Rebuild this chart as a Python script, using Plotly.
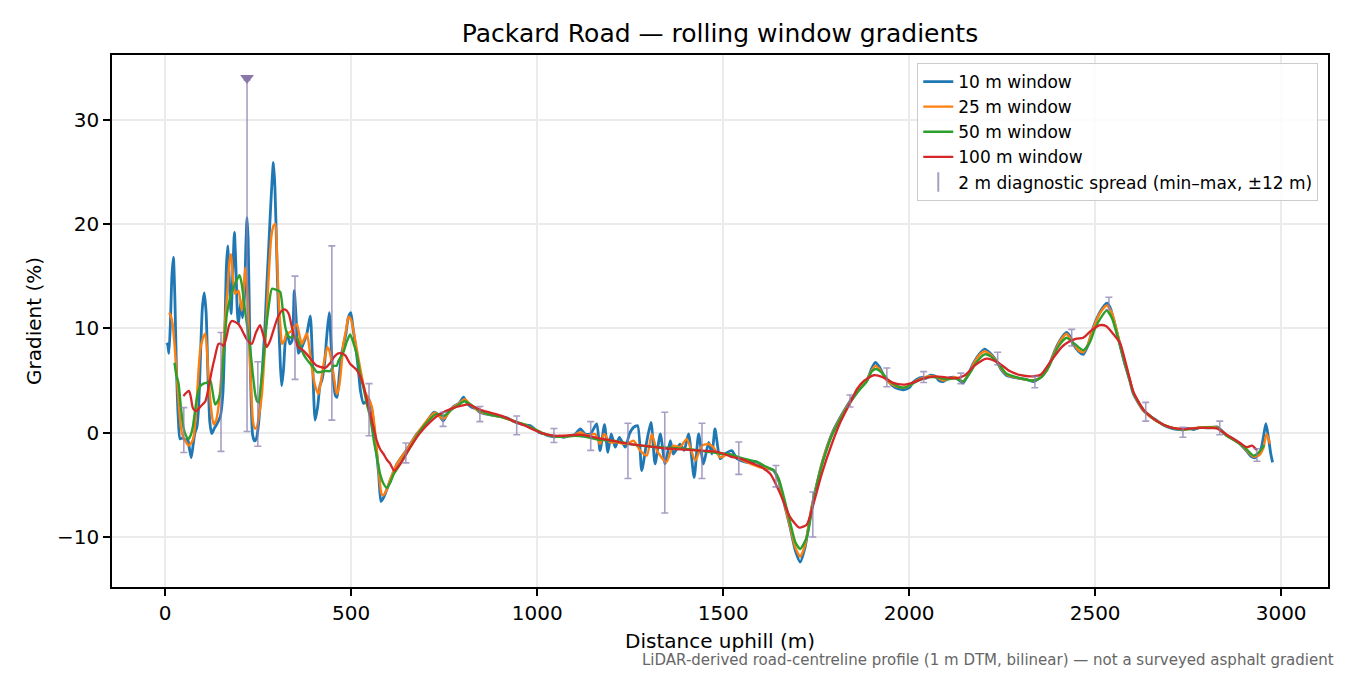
import plotly.graph_objects as go

# distance along road (m) and gradient (%) for each rolling window
x10 = [4.5, 7, 10, 14, 18, 22, 26, 30, 35, 40, 47, 54, 60, 65, 70, 75, 80, 85, 90, 95,
       100, 105, 110, 115, 120, 125, 132, 140, 148, 155, 160, 164, 168, 172, 177, 182, 186, 190, 194, 197,
       203, 208, 213, 217, 220, 223, 227, 231, 235, 240, 245, 250, 256, 262, 268, 273, 278, 284, 291, 295,
       300, 304, 309, 313, 318, 323, 328, 335, 341, 347, 352, 358, 365, 372, 381, 390, 396, 403, 410, 416,
       421, 428, 435, 441, 446, 452, 458, 462, 468, 474, 480, 486, 492, 499, 505, 511, 518, 525, 533, 540,
       547, 556, 565, 574, 580, 586, 591, 605, 623, 650, 677, 694, 708, 722, 735, 748, 760, 775, 790, 802,
       812, 825, 835, 846, 860, 875, 891, 905, 920, 936, 950, 965, 981, 995, 1005, 1017, 1030, 1045, 1060, 1071,
       1085, 1100, 1116, 1129, 1143, 1160, 1169, 1181, 1190, 1199, 1210, 1221, 1237, 1248, 1259, 1270, 1281, 1295, 1306, 1317,
       1331, 1344, 1358, 1366, 1384, 1395, 1407, 1422, 1434, 1447, 1461, 1470, 1478, 1492, 1505, 1523, 1537, 1564, 1590, 1617,
       1635, 1649, 1662, 1680, 1694, 1707, 1720, 1738, 1756, 1770, 1792, 1815, 1842, 1864, 1886, 1900, 1909, 1920, 1930, 1940,
       1955, 1970, 1985, 2000, 2010, 2020, 2035, 2045, 2056, 2070, 2080, 2092, 2105, 2123, 2135, 2145, 2158, 2172, 2188, 2203,
       2218, 2234, 2248, 2261, 2280, 2297, 2315, 2333, 2350, 2369, 2380, 2392, 2408, 2423, 2433, 2441, 2455, 2468, 2480, 2495,
       2512, 2525, 2531, 2540, 2550, 2562, 2578, 2593, 2603, 2630, 2650, 2666, 2685, 2702, 2720, 2737, 2750, 2765, 2782, 2800,
       2815, 2827, 2840, 2854, 2870, 2890, 2908, 2920, 2930, 2944, 2952, 2959, 2966, 2972, 2977]
y10 = [8.6, 8.4, 7.6, 10.5, 15.0, 16.8, 13.0, 6.5, 1.5, -0.6, -0.5, -0.7, -0.6, -1.5, -2.4, -1.2, 0.0, 0.5, 2.5, 7.5,
       12.0, 13.4, 11.5, 5.5, 1.0, -0.1, 0.4, 0.9, 1.5, 3.7, 9.0, 15.5, 17.9, 15.0, 11.4, 15.5, 19.2, 16.0, 11.5, 10.4,
       12.5, 11.0, 13.0, 18.0, 20.6, 18.5, 10.0, 3.0, -0.2, -0.8, -0.6, 0.5, 3.0, 6.5, 10.0, 14.0, 17.5, 22.0, 25.9, 23.5,
       17.0, 12.0, 7.0, 4.5, 6.0, 8.8, 9.6, 8.5, 8.8, 13.6, 11.0, 7.6, 8.0, 8.6, 9.5, 11.2, 7.0, 1.2, 2.5, 4.5,
       5.0, 6.5, 9.5, 11.5, 8.5, 5.0, 3.5, 3.4, 5.5, 7.5, 8.5, 9.5, 11.0, 11.5, 10.0, 8.5, 6.5, 4.0, 2.8, 3.0,
       3.2, 2.1, -0.8, -4.0, -6.6, -6.3, -5.9, -4.6, -3.0, -1.6, -0.1, 0.5, 1.3, 1.95, 1.7, 1.15, 1.9, 2.5, 2.8, 3.4,
       2.8, 2.4, 2.3, 1.95, 1.8, 1.7, 1.6, 1.5, 1.4, 1.1, 0.9, 0.75, 0.67, 0.3, 0.0, -0.1, -0.3, -0.4, -0.35, -0.45,
       -0.3, -0.2, 0.35, -0.13, -0.13, 0.83, -1.73, 0.77, -1.9, -0.13, -1.4, -0.45, -1.4, -0.13, 0.5, 0.67, -3.64, -0.77, 0.99, -3.0,
       -0.13, -3.0, -0.77, -2.05, -1.1, -1.7, -0.13, -4.3, -0.13, -3.0, -0.93, -2.05, 0.35, -2.5, -2.05, -1.73, -2.5, -2.85, -2.8, -3.4,
       -3.6, -4.6, -6.5, -9.1, -11.3, -12.4, -11.0, -7.2, -4.3, -2.4, -0.13, 1.47, 3.07, 4.2, 5.0, 6.2, 6.74, 6.3, 5.6, 5.1,
       4.5, 4.2, 4.1, 4.3, 4.8, 5.1, 5.3, 5.2, 5.5, 5.4, 5.0, 4.9, 5.2, 5.3, 5.0, 4.75, 5.5, 6.6, 7.5, 8.0,
       7.6, 6.9, 6.0, 5.5, 5.3, 5.2, 5.1, 4.9, 5.2, 5.94, 6.8, 7.9, 9.0, 9.6, 9.2, 8.5, 7.8, 7.5, 8.3, 10.1,
       11.5, 12.2, 12.4, 12.0, 10.8, 9.1, 6.8, 5.0, 3.7, 2.1, 1.5, 1.15, 0.7, 0.45, 0.3, 0.26, 0.4, 0.3, 0.5, 0.45,
       0.5, 0.55, 0.2, -0.28, -0.6, -1.1, -1.8, -2.3, -2.4, -1.8, -0.5, 0.85, -0.5, -2.0, -2.85]

x25 = [10.7, 15, 20, 25, 31, 36, 42, 48, 54, 63, 70, 76, 82, 88, 94, 101, 108, 116, 123, 130,
       137, 143, 150, 156, 161, 168, 173, 177, 182, 188, 197, 206, 211, 215, 220, 224, 230, 236, 241, 246,
       253, 260, 267, 273, 279, 285, 291, 296, 301, 305, 310, 314, 320, 327, 334, 341, 348, 354, 360, 367,
       374, 381, 388, 394, 403, 412, 419, 426, 431, 436, 442, 448, 455, 461, 468, 475, 479, 486, 493, 500,
       505, 511, 520, 529, 538, 547, 556, 563, 569, 575, 582, 587, 595, 605, 623, 650, 677, 700, 712, 725,
       748, 770, 790, 805, 820, 846, 875, 905, 936, 965, 995, 1017, 1045, 1071, 1100, 1116, 1134, 1156, 1169, 1180,
       1196, 1214, 1241, 1259, 1277, 1295, 1308, 1322, 1347, 1366, 1384, 1402, 1425, 1443, 1461, 1474, 1492, 1514, 1537, 1564,
       1599, 1617, 1635, 1649, 1662, 1680, 1694, 1707, 1720, 1738, 1756, 1770, 1792, 1815, 1842, 1864, 1886, 1900, 1909, 1920,
       1940, 1960, 1985, 2005, 2020, 2040, 2056, 2075, 2092, 2110, 2125, 2145, 2160, 2172, 2188, 2203, 2218, 2234, 2250, 2265,
       2297, 2333, 2350, 2369, 2392, 2408, 2423, 2441, 2455, 2468, 2480, 2495, 2512, 2531, 2545, 2562, 2578, 2593, 2603, 2630,
       2666, 2702, 2737, 2782, 2827, 2854, 2890, 2910, 2925, 2940, 2952, 2961, 2970]
y25 = [11.5, 11.2, 10.4, 8.5, 5.6, 3.0, 0.5, -0.4, -0.8, -1.25, -1.0, -0.5, 1.5, 5.0, 7.9, 9.0, 9.5, 5.6, 2.5, 0.8,
       1.2, 2.4, 5.0, 8.0, 10.7, 14.0, 16.5, 17.1, 15.0, 13.3, 13.6, 11.7, 13.5, 15.8, 14.0, 10.1, 5.0, 1.1, 0.4, 0.5,
       1.8, 3.7, 7.5, 11.4, 15.5, 18.7, 19.8, 20.0, 16.5, 12.7, 10.0, 8.5, 8.8, 9.5, 9.6, 9.8, 10.2, 10.4, 9.5, 8.5,
       9.0, 9.5, 8.0, 6.3, 4.5, 3.7, 5.0, 6.6, 7.5, 8.2, 7.8, 6.6, 5.0, 3.7, 4.5, 6.9, 8.5, 9.8, 11.1, 10.8,
       10.0, 8.8, 7.0, 5.3, 3.8, 3.3, 2.4, 0.5, -1.7, -4.0, -5.9, -6.0, -5.5, -4.5, -3.0, -1.6, -0.1, 1.0, 1.5, 1.9,
       1.3, 2.3, 2.8, 3.2, 2.7, 2.0, 1.7, 1.5, 1.1, 0.8, 0.3, -0.1, -0.35, -0.4, -0.25, 0.03, -0.29, -0.13, -1.09, -0.13,
       -0.93, -0.93, -1.09, -0.77, -1.73, -2.2, -0.13, -1.73, -2.84, -1.25, -1.41, -0.61, -2.68, -1.25, -1.09, -1.41, -2.37, -2.05, -2.37, -2.84,
       -3.32, -3.4, -3.6, -4.5, -6.4, -9.0, -11.0, -11.9, -10.8, -7.2, -4.3, -2.4, -0.2, 1.4, 3.0, 4.1, 5.0, 6.0, 6.4, 6.1,
       5.0, 4.5, 4.3, 4.6, 5.0, 5.3, 5.4, 5.3, 5.0, 5.2, 5.3, 4.9, 5.6, 6.5, 7.4, 7.8, 7.5, 6.9, 6.0, 5.5,
       5.2, 5.0, 5.2, 5.9, 7.8, 8.9, 9.46, 8.6, 7.9, 7.7, 8.4, 10.0, 11.4, 12.2, 11.5, 9.2, 6.9, 5.1, 3.8, 2.1,
       1.1, 0.5, 0.3, 0.5, 0.5, -0.3, -1.1, -1.8, -2.3, -2.2, -1.5, -0.13, -1.07]

x50 = [25, 30, 36, 42, 49, 56, 63, 69, 74, 80, 87, 95, 103, 112, 121, 128, 134, 141, 148, 155,
       160, 166, 175, 184, 192, 200, 206, 211, 220, 228, 235, 242, 247, 251, 257, 264, 270, 278, 287, 298,
       309, 316, 323, 330, 336, 345, 354, 363, 372, 381, 390, 399, 408, 417, 426, 435, 444, 452, 461, 466,
       479, 488, 497, 506, 515, 524, 533, 542, 551, 561, 570, 578, 587, 596, 605, 614, 632, 659, 686, 712,
       730, 750, 770, 790, 805, 825, 846, 875, 905, 936, 965, 995, 1017, 1045, 1071, 1100, 1130, 1170, 1210, 1250,
       1290, 1330, 1370, 1410, 1450, 1490, 1520, 1546, 1590, 1617, 1635, 1649, 1662, 1680, 1694, 1707, 1725, 1743, 1760, 1775,
       1792, 1815, 1842, 1864, 1886, 1900, 1912, 1925, 1945, 1965, 1985, 2005, 2025, 2050, 2075, 2100, 2125, 2145, 2165, 2180,
       2203, 2220, 2240, 2260, 2290, 2333, 2355, 2375, 2400, 2423, 2445, 2468, 2485, 2500, 2515, 2531, 2545, 2562, 2578, 2593,
       2603, 2630, 2666, 2702, 2737, 2782, 2827, 2854, 2890, 2910, 2925, 2940, 2955]
y50 = [6.7, 5.5, 4.7, 2.5, 0.5, -0.3, -0.6, -0.2, 0.5, 2.0, 3.7, 4.5, 4.7, 4.8, 5.0, 3.8, 2.7, 3.0, 3.7, 6.5,
       9.0, 11.4, 13.0, 13.9, 14.6, 15.1, 14.2, 12.7, 10.3, 8.2, 5.8, 3.7, 3.0, 2.9, 4.5, 6.9, 9.5, 12.0, 13.8, 13.7,
       13.5, 11.8, 10.1, 9.3, 9.1, 9.3, 9.1, 8.3, 7.5, 7.0, 6.6, 6.2, 5.8, 5.8, 5.9, 5.9, 5.9, 6.4, 6.4, 6.9,
       7.7, 8.7, 9.4, 8.6, 7.5, 5.6, 4.3, 2.75, 1.5, -0.8, -2.5, -4.0, -4.9, -5.3, -4.8, -4.0, -3.0, -1.4, 0.2, 1.3,
       1.8, 1.6, 2.2, 2.7, 3.0, 2.6, 2.1, 1.7, 1.5, 1.1, 0.8, 0.3, -0.1, -0.35, -0.4, -0.3, -0.4, -0.7, -0.8, -1.1,
       -1.3, -1.4, -1.5, -1.6, -1.8, -2.0, -2.1, -2.4, -2.8, -3.3, -3.6, -4.4, -6.0, -8.6, -10.5, -11.15, -10.0, -6.5, -3.8, -2.0,
       -0.3, 1.3, 2.9, 4.0, 4.9, 5.9, 6.1, 5.8, 5.0, 4.5, 4.3, 4.6, 5.0, 5.3, 5.3, 5.1, 5.2, 4.9, 5.8, 6.7,
       7.5, 7.3, 6.6, 5.7, 5.3, 5.0, 5.3, 6.3, 8.2, 9.1, 8.5, 7.9, 8.6, 10.0, 11.0, 11.7, 11.0, 9.0, 6.9, 5.0,
       3.8, 2.2, 1.1, 0.5, 0.3, 0.45, 0.45, -0.3, -1.1, -1.7, -2.2, -1.9, -1.2]

x100 = [49, 56, 64, 69, 74, 80, 85, 95, 108, 116, 125, 134, 143, 150, 157, 165, 172, 179, 188, 197,
        204, 211, 222, 233, 244, 255, 264, 273, 282, 291, 302, 314, 323, 332, 340, 345, 352, 358, 370, 381,
        390, 399, 408, 417, 430, 444, 455, 465, 475, 484, 497, 506, 515, 524, 533, 542, 551, 560, 569, 578,
        587, 596, 605, 616, 632, 659, 686, 712, 740, 770, 800, 815, 846, 875, 905, 936, 965, 995, 1017, 1045,
        1071, 1100, 1116, 1160, 1205, 1250, 1295, 1340, 1385, 1430, 1475, 1500, 1520, 1546, 1575, 1600, 1627, 1654, 1680, 1705,
        1725, 1743, 1765, 1792, 1815, 1842, 1860, 1880, 1905, 1930, 1955, 1985, 2010, 2040, 2070, 2100, 2125, 2150, 2175, 2208,
        2240, 2270, 2300, 2333, 2355, 2380, 2410, 2427, 2450, 2468, 2490, 2513, 2530, 2550, 2567, 2585, 2603, 2630, 2666, 2702,
        2737, 2782, 2827, 2854, 2890, 2908, 2922, 2935]
y100 = [3.5, 3.8, 4.0, 3.4, 2.4, 2.1, 2.1, 2.5, 3.0, 4.2, 5.9, 7.3, 8.5, 8.5, 8.3, 9.2, 10.3, 10.7, 10.6, 10.4,
        10.0, 9.5, 8.8, 8.5, 9.6, 10.3, 9.3, 8.2, 8.8, 9.8, 11.0, 11.7, 11.8, 11.4, 10.2, 9.5, 8.7, 8.2, 7.9, 7.5,
        7.1, 6.7, 6.4, 6.3, 6.2, 6.7, 7.3, 7.6, 7.6, 7.4, 6.6, 6.3, 6.0, 5.4, 4.5, 3.2, 1.8, 0.5, -0.8, -1.6,
        -2.05, -2.6, -3.0, -3.65, -3.0, -1.4, 0.0, 1.0, 1.8, 2.3, 2.6, 2.7, 2.2, 1.9, 1.6, 1.1, 0.7, 0.2, -0.1, -0.3,
        -0.3, -0.25, -0.2, -0.5, -0.8, -1.1, -1.3, -1.5, -1.6, -1.7, -1.8, -2.0, -2.3, -2.5, -2.9, -3.26, -3.96, -5.9, -8.1, -9.1,
        -8.8, -6.8, -3.96, -1.09, 0.99, 2.9, 4.2, 5.0, 5.5, 5.3, 4.8, 4.6, 4.8, 5.2, 5.4, 5.3, 5.2, 5.5, 6.4, 7.1,
        6.7, 5.9, 5.5, 5.4, 5.6, 6.8, 8.2, 8.66, 9.0, 9.1, 9.8, 10.3, 10.2, 9.4, 8.6, 6.3, 3.9, 2.2, 1.1, 0.5,
        0.35, 0.45, 0.4, -0.2, -1.0, -1.4, -1.25, -1.7]

# 2 m diagnostic spread: bar position, min and max (%)
bar_x = [50, 150, 220, 249, 349, 448, 548, 647, 747, 846, 945, 1045, 1144, 1244, 1343, 1443,
         1542, 1642, 1741, 1841, 1940, 2039, 2139, 2238, 2338, 2437, 2537, 2636, 2736, 2835, 2935]
bar_lo = [-1.9, -1.8, 0.1, -1.3, 5.1, 1.2, -0.3, -2.9, 0.6, 1.05, -0.2, -0.95, -1.7, -4.4, -7.7, -4.4,
          -4.0, -5.2, -10.0, 2.45, 4.4, 4.8, 4.7, 6.5, 4.3, 8.3, 11.8, 1.1, -0.45, -0.2, -2.75]
bar_hi = [2.4, 9.6, 33.8, 6.8, 15.0, 17.9, 4.7, -1.0, 1.95, 2.5, 1.6, 0.4, 1.05, 0.9, 1.95, 0.9,
          -0.9, -3.15, -5.7, 3.6, 6.2, 5.85, 5.7, 7.7, 5.4, 9.9, 12.97, 2.9, 0.5, 1.1, -1.55]
clip_x = [220]
clip_y = [34.0]

font = "DejaVu Sans"
bar_col = "rgba(140,125,175,0.75)"

fig = go.Figure()
for xs, ys, name, col, w in [(x10, y10, "10 m window", "#1f77b4", 2.8),
                             (x25, y25, "25 m window", "#ff7f0e", 2.4),
                             (x50, y50, "50 m window", "#2ca02c", 2.4),
                             (x100, y100, "100 m window", "#d62728", 2.3)]:
    fig.add_trace(go.Scatter(x=xs, y=ys, mode="lines", name=name,
                             line=dict(color=col, width=w, shape="spline", smoothing=0.6)))

mid = [(a + b) / 2 for a, b in zip(bar_lo, bar_hi)]
half = [(b - a) / 2 for a, b in zip(bar_lo, bar_hi)]
fig.add_trace(go.Scatter(x=bar_x, y=mid, mode="markers", showlegend=False,
                         marker=dict(size=2, color="rgba(0,0,0,0)"),
                         error_y=dict(type="data", array=half, color=bar_col,
                                      thickness=1.6, width=3.5)))
fig.add_trace(go.Scatter(x=clip_x, y=clip_y, mode="markers", showlegend=False,
                         marker=dict(symbol="triangle-down", size=12, color="#8878aa")))
fig.add_trace(go.Scatter(x=[None], y=[None], mode="markers",
                         name="2 m diagnostic spread (min\u2013max, \u00b112 m)",
                         marker=dict(symbol="line-ns-open", size=14, color=bar_col,
                                     line=dict(color=bar_col, width=2))))

axis = dict(showline=True, linecolor="black", linewidth=1.6, mirror=True,
            ticks="outside", ticklen=7, tickwidth=1.6, tickcolor="black",
            showgrid=True, gridcolor="#ebebeb", gridwidth=1.5, zeroline=False,
            tickfont=dict(size=20, color="black"))
fig.update_xaxes(axis, range=[-143, 3126], tickvals=[0, 500, 1000, 1500, 2000, 2500, 3000],
                 title=dict(text="Distance uphill (m)", font=dict(size=20), standoff=10))
fig.update_yaxes(axis, range=[-14.8, 36.2], tickvals=[-10, 0, 10, 20, 30],
                 title=dict(text="Gradient (%)", font=dict(size=20), standoff=10))

# the page body adds an 8 px margin, so the figure is 8 px smaller than the window
fig.update_layout(
    width=1342, height=667,
    font=dict(family=font, color="black"),
    plot_bgcolor="white", paper_bgcolor="white",
    margin=dict(l=104, r=22, t=47, b=88),
    title=dict(text="Packard Road \u2014 rolling window gradients", font=dict(size=25),
               x=0.5, xref="paper", xanchor="center", y=1 - 25 / 667, yref="container", yanchor="middle"),
    legend=dict(x=0.992, y=0.985, xanchor="right", yanchor="top",
                bgcolor="rgba(255,255,255,0.85)", bordercolor="#cccccc", borderwidth=1,
                font=dict(size=17), tracegroupgap=0),
    showlegend=True,
)
fig.add_annotation(text="LiDAR-derived road-centreline profile (1 m DTM, bilinear) \u2014 not a surveyed asphalt gradient",
                   xref="paper", yref="paper", x=1.0066, y=-0.137, xanchor="right", yanchor="middle",
                   showarrow=False, font=dict(size=15, color="#666666"))

fig.write_html("out.html")
